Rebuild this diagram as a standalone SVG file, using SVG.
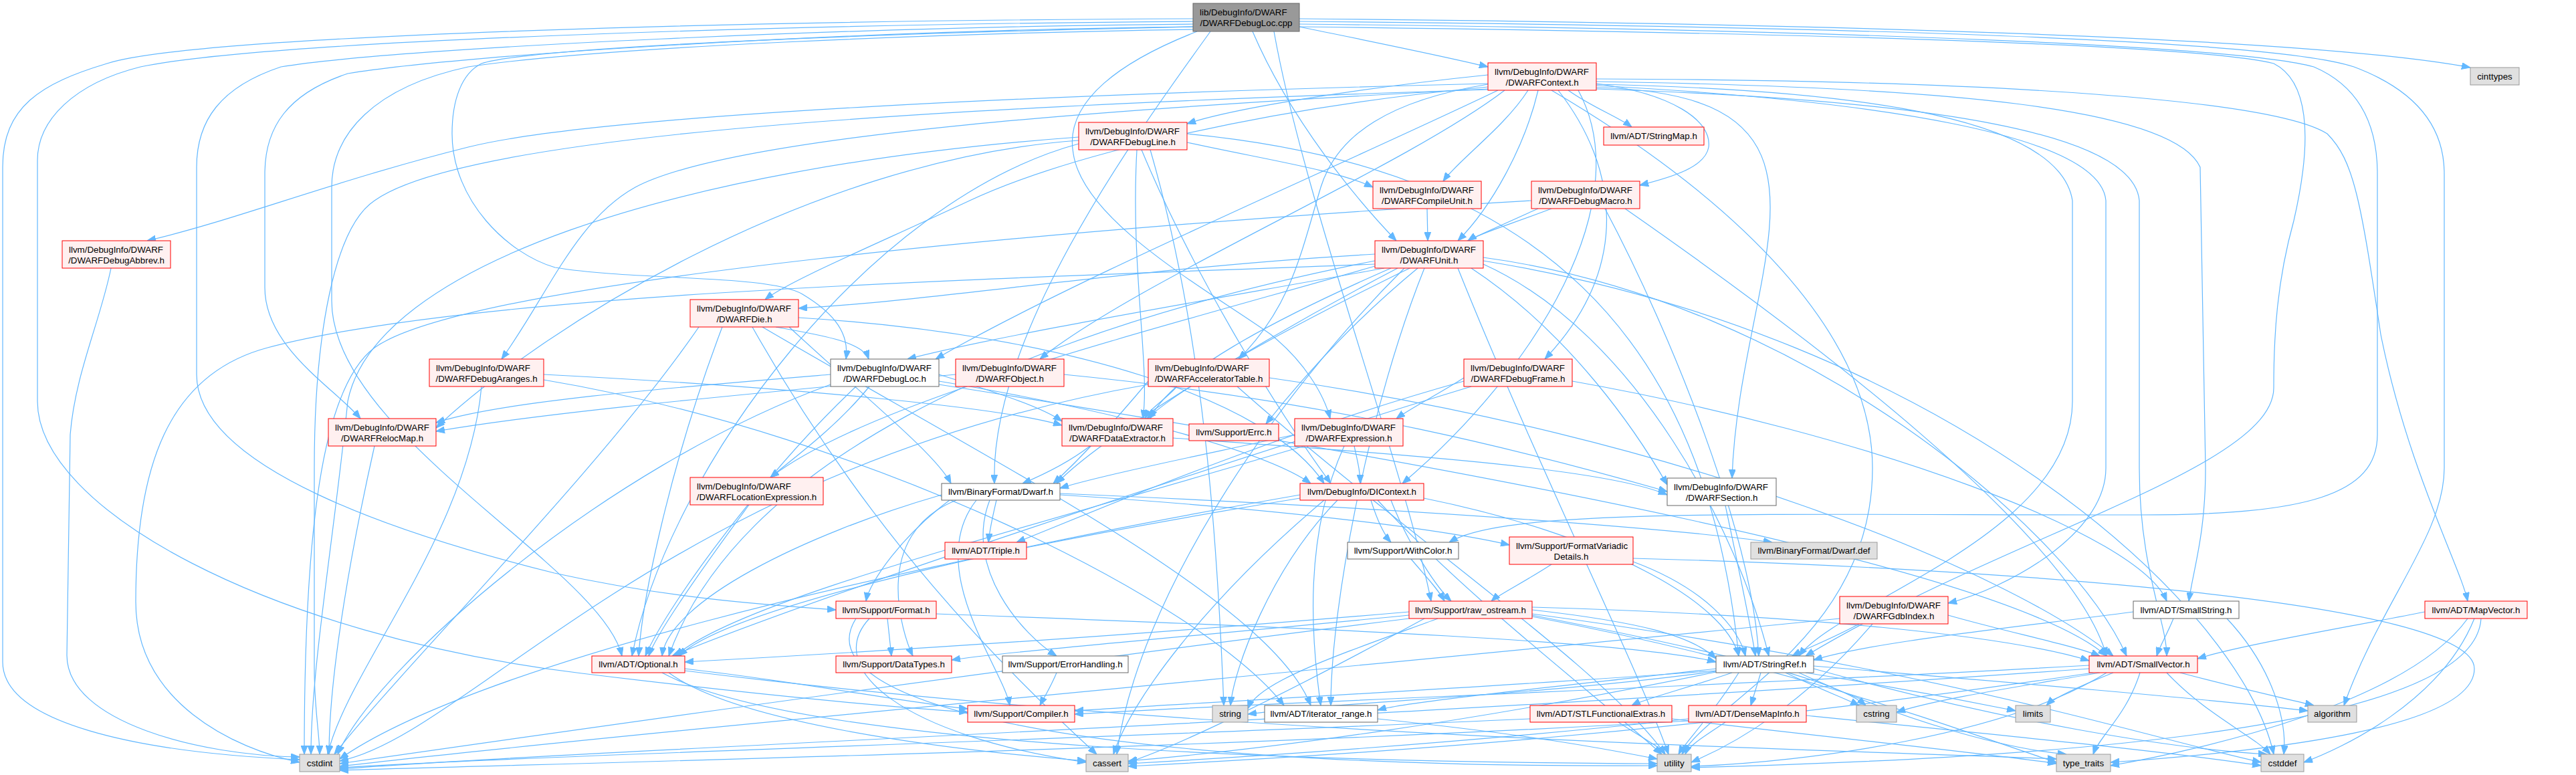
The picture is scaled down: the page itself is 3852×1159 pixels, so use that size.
<svg xmlns="http://www.w3.org/2000/svg" width="3852" height="1159" viewBox="0 0 3852 1159">
<defs>
<style>
.e{fill:none;stroke:#63b8ff;stroke-width:1.2;marker-end:url(#ah)}
.r{fill:#fff0f0;stroke:#ff0000;stroke-width:1}
.g{fill:#ffffff;stroke:#666666;stroke-width:1}
.s{fill:#e0e0e0;stroke:#999999;stroke-width:1}
.root{fill:#999999;stroke:#666666;stroke-width:1}
text{font-family:"Liberation Sans",Arial,sans-serif;font-size:13.33px;fill:#000000}
.m{text-anchor:middle}
.st{text-anchor:start}
</style>
<marker id="ah" markerWidth="13" markerHeight="10" refX="13" refY="5" orient="auto" markerUnits="userSpaceOnUse">
<path d="M0,0 L13,5 L0,10 z" fill="#63b8ff" stroke="#63b8ff" stroke-width="1"/>
</marker>
</defs>
<rect x="0" y="0" width="3852" height="1159" fill="#ffffff"/>
<g id="edges">
<path class="e" d="M1943,40 C2050,62 2150,82 2225,100"/>
<path class="e" d="M1943,28 C2700,35 3450,55 3694,101"/>
<path class="e" d="M1873,47 C1930,180 2030,300 2088,360"/>
<path class="e" d="M1784,40 C1300,50 800,70 720,95 C690,110 676,150 676,200 C676,300 760,380 830,400 C950,420 1150,410 1200,440 C1250,470 1270,500 1265,537"/>
<path class="e" d="M1784,28 C1200,30 300,50 160,95 C60,125 4,160 4,250 L4,990 C4,1080 200,1125 448,1136"/>
<path class="e" d="M1784,32 C1200,36 400,60 210,100 C110,125 56,180 56,240 L56,600 C56,760 400,950 870,1007 C1100,1035 1300,1055 1447,1065"/>
<path class="e" d="M1784,36 C1300,40 600,70 420,100 C330,130 294,180 294,250 L294,560 C294,700 600,800 829,857 C1000,895 1150,905 1250,912"/>
<path class="e" d="M1784,40 C1300,45 700,80 520,110 C430,140 396,190 396,260 L396,430 C396,520 500,580 539,626"/>
<path class="e" d="M1784,44 C1400,50 900,70 700,100 C560,130 496,200 496,280 L496,450 C496,650 900,850 930,981"/>
<path class="e" d="M1790,47 C1680,90 1590,150 1605,230 C1620,330 1800,430 1900,500 C1950,540 1980,590 1989,626"/>
<path class="e" d="M1810,47 C1700,200 1480,500 1487,723"/>
<path class="e" d="M1905,47 C1950,300 2100,700 2140,899"/>
<path class="e" d="M1943,40 C2800,50 3300,70 3400,95 C3450,120 3460,200 3430,330 C3405,420 3400,500 3400,580 C3400,700 3000,800 2700,981"/>
<path class="e" d="M1943,32 C2800,40 3400,60 3520,100 C3600,130 3655,180 3655,260 L3655,700 C3655,800 3560,900 3505,1055"/>
<path class="e" d="M1943,36 C2800,45 3350,70 3460,100 C3530,130 3555,190 3555,260 L3555,650 C3555,740 3450,770 3200,770 C2600,770 2250,760 2167,811"/>
<path class="e" d="M2225,112 C2050,130 1850,160 1775,185"/>
<path class="e" d="M2345,135 C2380,160 2420,175 2440,190"/>
<path class="e" d="M2285,135 C2250,190 2180,240 2158,271"/>
<path class="e" d="M2387,125 C2500,140 2560,180 2555,220 C2550,250 2500,265 2452,277"/>
<path class="e" d="M2300,135 C2280,220 2230,310 2180,360"/>
<path class="e" d="M2225,125 C1600,140 900,170 700,220 C500,270 350,330 220,360"/>
<path class="e" d="M2225,130 C1900,160 1600,230 1450,300 C1300,370 1180,420 1144,448"/>
<path class="e" d="M2225,133 C1700,160 1100,200 950,280 C860,330 820,440 750,537"/>
<path class="e" d="M2240,135 C2000,250 1600,420 1399,537"/>
<path class="e" d="M2250,135 C2100,250 1700,420 1555,537"/>
<path class="e" d="M2225,126 C2080,150 2000,200 1975,280 C1945,380 1930,460 1852,537"/>
<path class="e" d="M2330,135 C2420,250 2440,400 2310,537"/>
<path class="e" d="M2360,135 C2450,300 2300,550 2097,723"/>
<path class="e" d="M2387,131 C2800,140 2600,400 2590,715"/>
<path class="e" d="M2387,128 C2800,150 3140,200 3149,300 L3149,700 C3149,800 3000,880 2913,902"/>
<path class="e" d="M2387,122 C2900,130 3250,160 3290,250 L3298,700 C3298,800 3280,850 3273,899"/>
<path class="e" d="M2387,118 C3000,120 3400,150 3480,200 C3520,240 3530,300 3560,500 C3600,700 3680,850 3690,899"/>
<path class="e" d="M2387,126 C2800,135 3080,180 3099,300 L3099,600 C3099,800 2750,900 2690,981"/>
<path class="e" d="M2387,133 C2900,150 3190,200 3199,300 L3199,700 C3199,850 3240,930 3240,981"/>
<path class="e" d="M2225,134 C1400,160 700,200 560,300 C500,340 470,500 470,700 L470,1000 C470,1060 478,1100 478,1128"/>
<path class="e" d="M2320,135 C2600,300 2800,500 2800,700 C2800,950 2560,1050 2515,1128"/>
<path class="e" d="M1775,213 C1900,240 2000,255 2053,280"/>
<path class="e" d="M1707,224 C1780,400 1900,600 1990,723"/>
<path class="e" d="M1700,224 C1690,400 1720,550 1709,626"/>
<path class="e" d="M1613,210 C1200,240 800,500 652,640"/>
<path class="e" d="M1775,200 C2300,250 2550,500 2600,981"/>
<path class="e" d="M1613,215 C1300,300 1000,700 945,981"/>
<path class="e" d="M1613,205 C1000,250 560,400 520,600 C500,800 465,1000 465,1128"/>
<path class="e" d="M1720,224 C1800,500 1820,800 1830,1055"/>
<path class="e" d="M2134,312 L2135,360"/>
<path class="e" d="M2320,312 C2260,335 2210,350 2195,360"/>
<path class="e" d="M2300,312 C2100,400 1800,550 1715,626"/>
<path class="e" d="M2400,312 C2500,500 2620,800 2630,981"/>
<path class="e" d="M2430,312 C2700,500 3100,800 3150,981"/>
<path class="e" d="M2290,300 C1600,340 700,420 560,520 C480,580 455,800 455,1128"/>
<path class="e" d="M2056,380 C1700,400 1400,450 1194,461"/>
<path class="e" d="M2070,401 C1800,450 1500,500 1357,537"/>
<path class="e" d="M2080,401 C1900,480 1750,560 1720,626"/>
<path class="e" d="M2090,401 C1900,500 1650,650 1580,723"/>
<path class="e" d="M2200,401 C2350,500 2450,650 2493,725"/>
<path class="e" d="M2056,390 C1500,500 1100,700 1000,981"/>
<path class="e" d="M2218,395 C2450,500 2600,800 2645,981"/>
<path class="e" d="M2218,385 C2700,450 3100,800 3180,981"/>
<path class="e" d="M2130,401 C2050,600 1990,900 1990,1055"/>
<path class="e" d="M2100,401 C1900,600 1700,900 1670,1128"/>
<path class="e" d="M2218,390 C2900,500 3350,900 3400,1128"/>
<path class="e" d="M2056,395 C1400,420 700,440 400,520 C250,560 203,700 203,900 C203,1050 350,1120 448,1140"/>
<path class="e" d="M2180,401 C2300,700 2450,1000 2495,1128"/>
<path class="e" d="M2056,398 C1700,500 1300,600 1152,714"/>
<path class="e" d="M2120,401 C2000,500 1920,600 1893,634"/>
<path class="e" d="M166,401 C150,480 112,560 105,650 L100,980 C100,1080 300,1130 448,1132"/>
<path class="e" d="M1160,489 C1220,500 1290,510 1299,537"/>
<path class="e" d="M1080,489 C1000,700 960,900 955,981"/>
<path class="e" d="M1140,489 C1500,700 1900,900 1960,1055"/>
<path class="e" d="M1180,489 C1300,600 1400,680 1422,723"/>
<path class="e" d="M1125,489 C1300,800 1500,1000 1640,1128"/>
<path class="e" d="M1045,489 C900,700 600,1000 500,1128"/>
<path class="e" d="M1194,475 C1600,500 1900,600 1980,723"/>
<path class="e" d="M813,568 C1300,650 1800,900 1920,1055"/>
<path class="e" d="M720,578 C700,800 520,1000 490,1128"/>
<path class="e" d="M813,560 C1200,580 1500,610 1588,636"/>
<path class="e" d="M1242,560 C1000,580 750,600 652,632"/>
<path class="e" d="M1404,560 C1500,590 1560,610 1588,630"/>
<path class="e" d="M1300,578 C1250,640 1180,690 1152,714"/>
<path class="e" d="M1404,570 C1700,620 1900,680 1960,723"/>
<path class="e" d="M1280,578 C1150,700 1000,900 965,981"/>
<path class="e" d="M1404,575 C2200,700 3000,850 3150,981"/>
<path class="e" d="M1242,575 C900,700 560,1000 505,1128"/>
<path class="e" d="M1429,560 C1000,600 800,620 652,645"/>
<path class="e" d="M1591,560 C2000,600 2300,680 2493,735"/>
<path class="e" d="M1760,578 C1740,600 1720,610 1712,626"/>
<path class="e" d="M1717,570 C1650,650 1600,700 1575,723"/>
<path class="e" d="M1898,565 C2500,650 3000,850 3160,981"/>
<path class="e" d="M1717,575 C1000,700 700,1100 508,1138"/>
<path class="e" d="M1850,578 C2100,800 2400,1000 2490,1128"/>
<path class="e" d="M2189,565 C2150,590 2110,610 2088,626"/>
<path class="e" d="M2189,570 C1900,650 1600,780 1520,811"/>
<path class="e" d="M2351,570 C2800,650 3200,800 3240,899"/>
<path class="e" d="M2200,578 C1800,700 1200,900 1005,981"/>
<path class="e" d="M560,667 C530,800 492,1000 492,1128"/>
<path class="e" d="M1630,667 C1600,690 1560,710 1529,723"/>
<path class="e" d="M1754,655 C2100,680 2400,700 2493,740"/>
<path class="e" d="M2025,667 C2030,690 2034,705 2034,723"/>
<path class="e" d="M1936,650 C1800,680 1650,710 1585,730"/>
<path class="e" d="M1950,667 C1500,800 1100,900 1010,981"/>
<path class="e" d="M2010,667 C1950,800 1960,950 1975,1055"/>
<path class="e" d="M1120,755 C1050,850 980,950 970,981"/>
<path class="e" d="M1490,748 C1485,770 1480,790 1478,811"/>
<path class="e" d="M1585,740 C1900,760 2150,790 2257,815"/>
<path class="e" d="M1585,738 C2100,760 2500,790 2650,811"/>
<path class="e" d="M1480,748 C1440,850 1530,950 1580,981"/>
<path class="e" d="M1460,748 C1380,850 1500,1000 1510,1055"/>
<path class="e" d="M1430,748 C1300,800 1350,950 1365,981"/>
<path class="e" d="M1420,748 C1350,800 1300,870 1295,899"/>
<path class="e" d="M1408,740 C1200,800 1000,900 990,981"/>
<path class="e" d="M2050,748 C2060,780 2070,800 2080,811"/>
<path class="e" d="M2080,748 C2100,800 2140,870 2170,899"/>
<path class="e" d="M1944,740 C1600,800 1100,900 1015,981"/>
<path class="e" d="M2129,745 C2400,800 2580,900 2600,981"/>
<path class="e" d="M2000,748 C1900,850 1845,1000 1840,1055"/>
<path class="e" d="M1944,745 C1300,850 700,1000 508,1135"/>
<path class="e" d="M1980,748 C1800,900 1690,1050 1665,1128"/>
<path class="e" d="M2060,748 C2200,900 2400,1050 2485,1128"/>
<path class="e" d="M2580,756 C2600,850 2620,950 2625,981"/>
<path class="e" d="M2110,836 C2130,860 2150,880 2160,899"/>
<path class="e" d="M2320,844 C2280,870 2240,890 2230,899"/>
<path class="e" d="M2442,840 C2550,880 2600,940 2610,981"/>
<path class="e" d="M2442,835 C3000,850 3700,900 3700,1000 C3700,1100 3300,1130 3156,1140"/>
<path class="e" d="M1327,925 L1333,981"/>
<path class="e" d="M1400,918 C2000,940 2450,960 2566,990"/>
<path class="e" d="M1300,925 C1230,1000 1350,1100 1624,1140"/>
<path class="e" d="M1280,925 C1200,1050 1600,1150 2478,1145"/>
<path class="e" d="M2107,915 C1700,950 1300,975 1024,990"/>
<path class="e" d="M2107,920 C1800,950 1500,975 1423,987"/>
<path class="e" d="M2291,912 C2450,930 2530,950 2566,985"/>
<path class="e" d="M2291,908 C2700,920 3000,950 3124,988"/>
<path class="e" d="M2150,925 C2000,980 1880,1020 1866,1060"/>
<path class="e" d="M2291,920 C2600,980 2750,1020 2790,1055"/>
<path class="e" d="M2107,925 C1500,1000 800,1100 508,1142"/>
<path class="e" d="M2130,925 C1900,1050 1750,1120 1687,1140"/>
<path class="e" d="M2291,922 C2700,1000 2950,1100 3075,1140"/>
<path class="e" d="M2291,918 C2900,1000 3200,1100 3381,1140"/>
<path class="e" d="M2780,933 C2740,955 2700,970 2680,981"/>
<path class="e" d="M2913,920 C3000,945 3100,965 3140,981"/>
<path class="e" d="M2751,925 C2000,1000 900,1100 508,1146"/>
<path class="e" d="M2800,933 C2700,1050 2600,1110 2529,1140"/>
<path class="e" d="M3250,925 C3240,950 3230,965 3225,981"/>
<path class="e" d="M3190,915 C3000,940 2800,960 2712,987"/>
<path class="e" d="M3330,925 C3400,1000 3420,1080 3415,1128"/>
<path class="e" d="M3626,915 C3500,940 3350,965 3286,985"/>
<path class="e" d="M3700,925 C3650,1050 3500,1120 3445,1140"/>
<path class="e" d="M3690,925 C3600,1050 3300,1120 3156,1145"/>
<path class="e" d="M3710,925 C3700,1100 3000,1135 2529,1148"/>
<path class="e" d="M1024,1000 C1200,1020 1350,1050 1447,1060"/>
<path class="e" d="M1000,1006 C1100,1080 1400,1120 1624,1138"/>
<path class="e" d="M990,1006 C1200,1120 2000,1140 2478,1142"/>
<path class="e" d="M1024,1003 C1800,1100 2700,1120 3075,1135"/>
<path class="e" d="M1580,1006 C1570,1030 1560,1045 1555,1055"/>
<path class="e" d="M2633,1006 L2618,1055"/>
<path class="e" d="M2590,1006 C2520,1030 2460,1045 2440,1055"/>
<path class="e" d="M2566,1000 C2300,1030 2100,1050 2060,1062"/>
<path class="e" d="M2566,1003 C2200,1030 1800,1050 1607,1063"/>
<path class="e" d="M2566,1004 C2300,1040 2000,1050 1866,1068"/>
<path class="e" d="M2670,1006 C2720,1030 2760,1045 2780,1055"/>
<path class="e" d="M2700,1006 C2850,1030 2950,1050 3014,1063"/>
<path class="e" d="M2712,996 C3000,1020 3300,1045 3451,1063"/>
<path class="e" d="M2566,1005 C2200,1080 1900,1120 1687,1138"/>
<path class="e" d="M2600,1006 C2560,1070 2520,1110 2510,1128"/>
<path class="e" d="M2690,1006 C2850,1080 3000,1120 3090,1128"/>
<path class="e" d="M2712,1000 C3000,1080 3250,1120 3390,1128"/>
<path class="e" d="M3124,995 C2500,1030 1900,1050 1607,1068"/>
<path class="e" d="M3140,1006 C3000,1030 2900,1045 2836,1065"/>
<path class="e" d="M3160,1006 C3100,1030 3070,1045 3060,1055"/>
<path class="e" d="M3260,1006 C3350,1030 3420,1045 3460,1055"/>
<path class="e" d="M3124,1000 C2000,1080 900,1120 508,1150"/>
<path class="e" d="M3130,1006 C2500,1100 2000,1130 1687,1146"/>
<path class="e" d="M3150,1006 C3000,1100 2700,1140 2529,1146"/>
<path class="e" d="M3200,1006 C3180,1070 3140,1100 3130,1128"/>
<path class="e" d="M3240,1006 C3300,1070 3370,1100 3395,1128"/>
<path class="e" d="M2288,1075 C1500,1110 800,1130 508,1148"/>
<path class="e" d="M2420,1080 C2450,1100 2480,1115 2490,1128"/>
<path class="e" d="M2500,1075 C2800,1110 3000,1130 3075,1142"/>
<path class="e" d="M2525,1075 C2200,1110 1900,1130 1687,1142"/>
<path class="e" d="M2580,1080 C2550,1100 2525,1115 2520,1128"/>
<path class="e" d="M2525,1078 C1800,1120 900,1140 508,1152"/>
<path class="e" d="M2701,1070 C3000,1100 3250,1125 3381,1145"/>
<path class="e" d="M2060,1075 C2300,1100 2400,1120 2478,1135"/>
</g>
<g id="nodes">
<g id="n0"><rect class="root" x="1784" y="5" width="159" height="42"/><text class="st" x="1794" y="23">lib/DebugInfo/DWARF</text><text class="m" x="1863.5" y="39">/DWARFDebugLoc.cpp</text></g>
<g id="n1"><rect class="r" x="2225" y="94" width="162" height="41"/><text class="st" x="2235" y="112">llvm/DebugInfo/DWARF</text><text class="m" x="2306" y="128">/DWARFContext.h</text></g>
<g id="n2"><rect class="s" x="3694" y="101" width="73" height="26"/><text class="m" x="3730.5" y="118.5">cinttypes</text></g>
<g id="n3"><rect class="r" x="1613" y="183" width="162" height="41"/><text class="st" x="1623" y="201">llvm/DebugInfo/DWARF</text><text class="m" x="1694" y="217">/DWARFDebugLine.h</text></g>
<g id="n4"><rect class="r" x="2398" y="190" width="150" height="27"/><text class="m" x="2473" y="208">llvm/ADT/StringMap.h</text></g>
<g id="n5"><rect class="r" x="2053" y="271" width="162" height="41"/><text class="st" x="2063" y="289">llvm/DebugInfo/DWARF</text><text class="m" x="2134" y="305">/DWARFCompileUnit.h</text></g>
<g id="n6"><rect class="r" x="2290" y="271" width="162" height="41"/><text class="st" x="2300" y="289">llvm/DebugInfo/DWARF</text><text class="m" x="2371" y="305">/DWARFDebugMacro.h</text></g>
<g id="n7"><rect class="r" x="2056" y="360" width="162" height="41"/><text class="st" x="2066" y="378">llvm/DebugInfo/DWARF</text><text class="m" x="2137" y="394">/DWARFUnit.h</text></g>
<g id="n8"><rect class="r" x="93" y="360" width="162" height="41"/><text class="st" x="103" y="378">llvm/DebugInfo/DWARF</text><text class="m" x="174" y="394">/DWARFDebugAbbrev.h</text></g>
<g id="n9"><rect class="r" x="1032" y="448" width="162" height="41"/><text class="st" x="1042" y="466">llvm/DebugInfo/DWARF</text><text class="m" x="1113" y="482">/DWARFDie.h</text></g>
<g id="n10"><rect class="r" x="642" y="537" width="171" height="41"/><text class="st" x="652" y="555">llvm/DebugInfo/DWARF</text><text class="m" x="727.5" y="571">/DWARFDebugAranges.h</text></g>
<g id="n11"><rect class="g" x="1242" y="537" width="162" height="41"/><text class="st" x="1252" y="555">llvm/DebugInfo/DWARF</text><text class="m" x="1323" y="571">/DWARFDebugLoc.h</text></g>
<g id="n12"><rect class="r" x="1429" y="537" width="162" height="41"/><text class="st" x="1439" y="555">llvm/DebugInfo/DWARF</text><text class="m" x="1510" y="571">/DWARFObject.h</text></g>
<g id="n13"><rect class="r" x="1717" y="537" width="181" height="41"/><text class="st" x="1727" y="555">llvm/DebugInfo/DWARF</text><text class="m" x="1807.5" y="571">/DWARFAcceleratorTable.h</text></g>
<g id="n14"><rect class="r" x="2189" y="537" width="162" height="41"/><text class="st" x="2199" y="555">llvm/DebugInfo/DWARF</text><text class="m" x="2270" y="571">/DWARFDebugFrame.h</text></g>
<g id="n15"><rect class="r" x="491" y="626" width="161" height="41"/><text class="st" x="501" y="644">llvm/DebugInfo/DWARF</text><text class="m" x="571.5" y="660">/DWARFRelocMap.h</text></g>
<g id="n16"><rect class="r" x="1588" y="626" width="166" height="41"/><text class="st" x="1598" y="644">llvm/DebugInfo/DWARF</text><text class="m" x="1671" y="660">/DWARFDataExtractor.h</text></g>
<g id="n17"><rect class="r" x="1778" y="634" width="134" height="25"/><text class="m" x="1845" y="651">llvm/Support/Errc.h</text></g>
<g id="n18"><rect class="r" x="1936" y="626" width="162" height="41"/><text class="st" x="1946" y="644">llvm/DebugInfo/DWARF</text><text class="m" x="2017" y="660">/DWARFExpression.h</text></g>
<g id="n19"><rect class="r" x="1032" y="714" width="199" height="41"/><text class="st" x="1042" y="732">llvm/DebugInfo/DWARF</text><text class="m" x="1131.5" y="748">/DWARFLocationExpression.h</text></g>
<g id="n20"><rect class="g" x="1408" y="723" width="177" height="25"/><text class="m" x="1496.5" y="740">llvm/BinaryFormat/Dwarf.h</text></g>
<g id="n21"><rect class="r" x="1944" y="723" width="185" height="25"/><text class="m" x="2036.5" y="740">llvm/DebugInfo/DIContext.h</text></g>
<g id="n22"><rect class="g" x="2493" y="715" width="163" height="41"/><text class="st" x="2503" y="733">llvm/DebugInfo/DWARF</text><text class="m" x="2574.5" y="749">/DWARFSection.h</text></g>
<g id="n23"><rect class="r" x="1413" y="811" width="122" height="25"/><text class="m" x="1474" y="828">llvm/ADT/Triple.h</text></g>
<g id="n24"><rect class="g" x="2015" y="811" width="166" height="25"/><text class="m" x="2098" y="828">llvm/Support/WithColor.h</text></g>
<g id="n25"><rect class="s" x="2618" y="811" width="189" height="25"/><text class="m" x="2712.5" y="828">llvm/BinaryFormat/Dwarf.def</text></g>
<g id="n26"><rect class="r" x="2257" y="803" width="185" height="41"/><text class="st" x="2267" y="821">llvm/Support/FormatVariadic</text><text class="m" x="2349.5" y="837">Details.h</text></g>
<g id="n27"><rect class="r" x="1250" y="899" width="150" height="26"/><text class="m" x="1325" y="916.5">llvm/Support/Format.h</text></g>
<g id="n28"><rect class="r" x="2107" y="899" width="184" height="26"/><text class="m" x="2199" y="916.5">llvm/Support/raw_ostream.h</text></g>
<g id="n29"><rect class="r" x="2751" y="892" width="162" height="41"/><text class="st" x="2761" y="910">llvm/DebugInfo/DWARF</text><text class="m" x="2832" y="926">/DWARFGdbIndex.h</text></g>
<g id="n30"><rect class="g" x="3190" y="899" width="158" height="26"/><text class="m" x="3269" y="916.5">llvm/ADT/SmallString.h</text></g>
<g id="n31"><rect class="r" x="3626" y="899" width="153" height="26"/><text class="m" x="3702.5" y="916.5">llvm/ADT/MapVector.h</text></g>
<g id="n32"><rect class="r" x="885" y="981" width="139" height="25"/><text class="m" x="954.5" y="998">llvm/ADT/Optional.h</text></g>
<g id="n33"><rect class="r" x="1250" y="981" width="173" height="25"/><text class="m" x="1336.5" y="998">llvm/Support/DataTypes.h</text></g>
<g id="n34"><rect class="g" x="1499" y="981" width="188" height="25"/><text class="m" x="1593" y="998">llvm/Support/ErrorHandling.h</text></g>
<g id="n35"><rect class="g" x="2566" y="981" width="146" height="25"/><text class="m" x="2639" y="998">llvm/ADT/StringRef.h</text></g>
<g id="n36"><rect class="r" x="3124" y="981" width="162" height="25"/><text class="m" x="3205" y="998">llvm/ADT/SmallVector.h</text></g>
<g id="n37"><rect class="r" x="1447" y="1055" width="160" height="25"/><text class="m" x="1527" y="1072">llvm/Support/Compiler.h</text></g>
<g id="n38"><rect class="s" x="1813" y="1055" width="53" height="25"/><text class="m" x="1839.5" y="1072">string</text></g>
<g id="n39"><rect class="g" x="1891" y="1055" width="169" height="25"/><text class="m" x="1975.5" y="1072">llvm/ADT/iterator_range.h</text></g>
<g id="n40"><rect class="r" x="2288" y="1055" width="212" height="25"/><text class="m" x="2394" y="1072">llvm/ADT/STLFunctionalExtras.h</text></g>
<g id="n41"><rect class="r" x="2525" y="1055" width="176" height="25"/><text class="m" x="2613" y="1072">llvm/ADT/DenseMapInfo.h</text></g>
<g id="n42"><rect class="s" x="2776" y="1055" width="60" height="25"/><text class="m" x="2806" y="1072">cstring</text></g>
<g id="n43"><rect class="s" x="3014" y="1055" width="52" height="25"/><text class="m" x="3040" y="1072">limits</text></g>
<g id="n44"><rect class="s" x="3451" y="1055" width="73" height="25"/><text class="m" x="3487.5" y="1072">algorithm</text></g>
<g id="n45"><rect class="s" x="448" y="1128" width="60" height="26"/><text class="m" x="478" y="1145.5">cstdint</text></g>
<g id="n46"><rect class="s" x="1624" y="1128" width="63" height="26"/><text class="m" x="1655.5" y="1145.5">cassert</text></g>
<g id="n47"><rect class="s" x="2478" y="1128" width="51" height="26"/><text class="m" x="2503.5" y="1145.5">utility</text></g>
<g id="n48"><rect class="s" x="3075" y="1128" width="81" height="26"/><text class="m" x="3115.5" y="1145.5">type_traits</text></g>
<g id="n49"><rect class="s" x="3381" y="1128" width="64" height="26"/><text class="m" x="3413" y="1145.5">cstddef</text></g>
</g>
</svg>
